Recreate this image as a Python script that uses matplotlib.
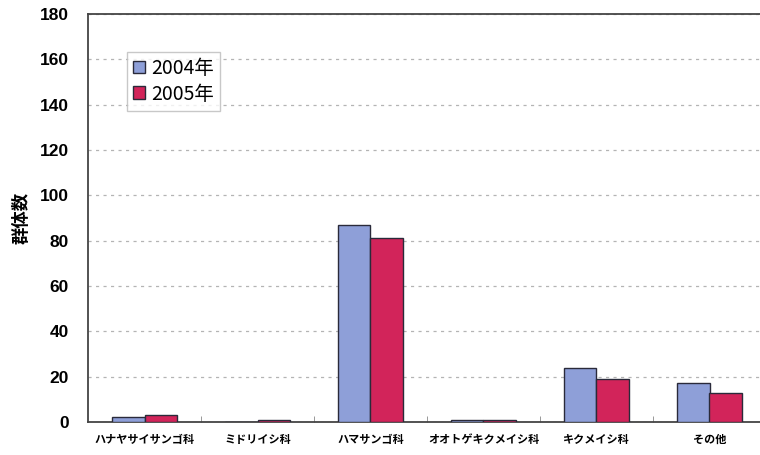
import matplotlib
matplotlib.use("Agg")
import matplotlib.pyplot as plt
import numpy as np

plt.rcParams['font.family'] = ['Noto Sans CJK JP', 'DejaVu Sans']

categories = ["ハナヤサイサンゴ科", "ミドリイシ科", "ハマサンゴ科", "オオトゲキクメイシ科", "キクメイシ科", "その他"]
series_names = ["2004年", "2005年"]
values_2004 = [2, 0, 87, 1, 24, 17]
values_2005 = [3, 1, 81, 1, 19, 13]
yticks = [0, 20, 40, 60, 80, 100, 120, 140, 160, 180]

fig = plt.figure(figsize=(7.6, 4.55), dpi=100)
ax = fig.add_axes([88/760, 1-422/455, (766-88)/760, (422-14)/455])

x = np.arange(len(categories))
w = 0.29
ax.bar(x - w/2, values_2004, w, color="#8e9fd8", edgecolor="#2a2a3a", linewidth=1.0, label=series_names[0], zorder=3)
ax.bar(x + w/2, values_2005, w, color="#d2245a", edgecolor="#2a2a3a", linewidth=1.0, label=series_names[1], zorder=3)

ax.set_xlim(-0.5, len(categories) - 0.5)
ax.set_ylim(0, 180)
ax.set_yticks(yticks)
ax.set_yticklabels([str(v) for v in yticks], fontsize=12.5, fontweight='bold', family=['Liberation Sans', 'DejaVu Sans'])
ax.set_xticks(x)
ax.set_xticklabels(categories, fontsize=8, fontweight='bold')
ax.set_xticks(np.arange(len(categories) - 1) + 0.5, minor=True)
ax.tick_params(axis='x', which='major', length=0, pad=8)
ax.tick_params(axis='x', which='minor', direction='in', length=4, color='#888888')
ax.tick_params(axis='y', length=0, pad=14)

ax.grid(axis='y', linestyle=(0, (2.5, 3.5)), color='#b4b4b4', linewidth=0.9, zorder=0)
for s in ['left', 'bottom', 'top']:
    ax.spines[s].set_color('#444444')
    ax.spines[s].set_linewidth(1.3)
ax.spines['right'].set_visible(False)

ax.set_ylabel("群体数", fontsize=12.5, fontweight='bold', labelpad=6)

leg = ax.legend(loc='upper left', bbox_to_anchor=((127-88)/(766-88), 1-(52-14)/408), fontsize=14,
                frameon=True, fancybox=False, edgecolor='#bbbbbb', handlelength=0.65, handleheight=0.65,
                handletextpad=0.3, borderpad=0.3, labelspacing=0.25, borderaxespad=0)

fig.savefig("out.png", dpi=100)
